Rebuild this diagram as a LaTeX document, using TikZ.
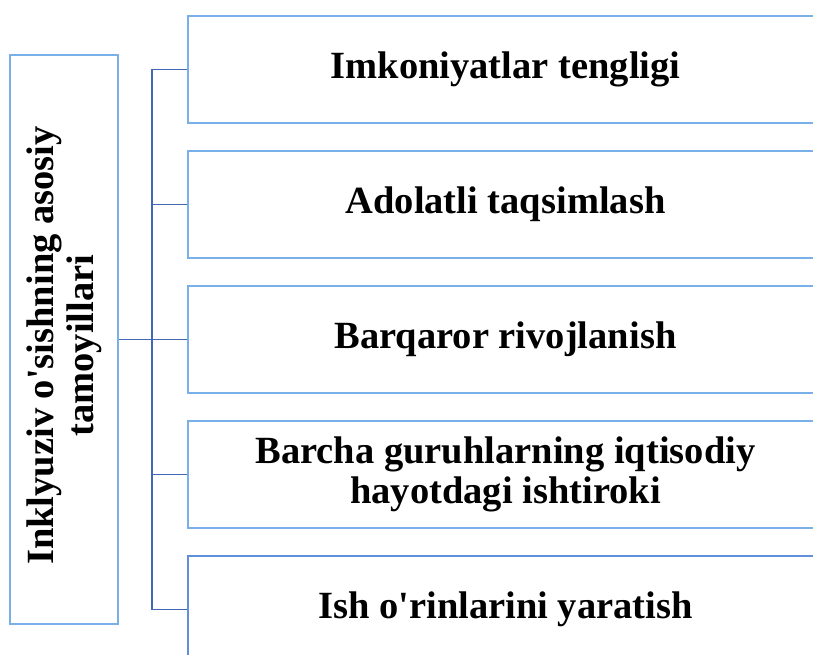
\documentclass[tikz,border=0pt]{standalone}
\usepackage{fontspec}
\setmainfont{Liberation Serif}
\usepackage{xcolor}
\usetikzlibrary{positioning,calc}

\definecolor{boxblue}{RGB}{122,176,234}
\definecolor{boxdark}{RGB}{96,144,218}
\definecolor{linkblue}{RGB}{66,104,180}

\begin{document}
\begin{tikzpicture}[x=1pt,y=-1pt,
    box/.style={draw=boxblue, line width=1.7pt, minimum width=635pt, minimum height=107pt,
                inner sep=0pt, align=center, font=\bfseries\fontsize{38.5}{40}\selectfont},
    link/.style={draw=linkblue, line width=1.6pt}]
    \useasboundingbox (0,0) rectangle (813,654);
    \clip (0,0) rectangle (813,654);

    % main principle
    \node[box, rotate=90, minimum width=569pt, minimum height=108pt] (root) at (64,339.5)
        {\hspace*{-12pt}Inklyuziv o\textquotesingle sishning asosiy\\\hspace*{-12pt}tamoyillari};

    % principles
    \node[box] (b1) at (505.5,69.5) {Imkoniyatlar tengligi};
    \node[box] (b2) at (505.5,204.5) {Adolatli taqsimlash};
    \node[box] (b3) at (505.5,339.5) {Barqaror rivojlanish};
    \node[box] (b4) at (505.5,474.5) {Barcha guruhlarning iqtisodiy\\hayotdagi ishtiroki};
    \node[box, draw=boxdark] (b5) at (505.5,609.5) {Ish o\textquotesingle rinlarini yaratish};

    % bracket
    \draw[link] (b1.west) -- ++(-35,0) coordinate (top) |- (b5.west);
    \draw[link] (b2.west) -- (b2.west -| top);
    \draw[link] (b4.west) -- (b4.west -| top);
    \draw[link] (root.south) -- (b3.west);
\end{tikzpicture}
\end{document}
